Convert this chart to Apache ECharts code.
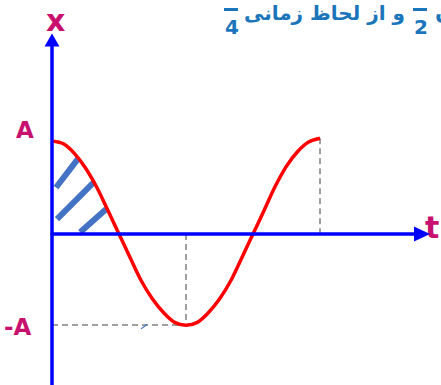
<!DOCTYPE html>
<html lang="fa">

<head>
    <meta charset="UTF-8">
    <title>x - t</title>
    <style>
        * {
            margin: 0;
            padding: 0;
        }

        #main {
            width: 441px;
            height: 385px;
            background-color: #fff;
        }
    </style>
</head>
<script src="https://cdn.jsdelivr.net/npm/echarts@6/dist/echarts.min.js"></script>

<body>
    <div id="main"></div>
    <script>
        // time in quarter periods (T/4), displacement in units of A
        var tValues = [0, 0.17, 0.33, 0.5, 0.67, 0.83, 1, 1.17, 1.33, 1.5, 1.67, 1.83, 2,
            2.17, 2.33, 2.5, 2.67, 2.83, 3, 3.17, 3.33, 3.5, 3.67, 3.83, 4];
        var xValues = [1.0, 0.97, 0.87, 0.71, 0.5, 0.26, 0, -0.26, -0.5, -0.7, -0.85, -0.95, -0.98,
            -0.95, -0.85, -0.7, -0.5, -0.26, 0, 0.26, 0.51, 0.73, 0.89, 0.99, 1.03];
        var tickLabels = ['A', '-A'];
        var axisNames = ['t', 'x'];
        // hatch strokes inside the first quarter, [t1, x1, t2, x2]
        var hatch = [
            [0.06, 0.5, 0.39, 0.81],
            [0.075, 0.16, 0.63, 0.56],
            [0.42, 0.02, 0.81, 0.27]
        ];
        var stray = [[1.33, -1.02, 1.42, -0.97]];
        var titleText = 'و از لحاظ زمانی';

        var pink = '#C8106E';
        var blue = '#1B75BB';

        var curve = tValues.map(function (t, i) {
            return [t, xValues[i]];
        });
        var iMin = 0;
        xValues.forEach(function (v, i) {
            if (v < xValues[iMin]) iMin = i;
        });
        var last = curve.length - 1;
        var guides = [
            [{ coord: [tValues[iMin], 0] }, { coord: curve[iMin] }],
            [{ coord: [0, xValues[iMin]] }, { coord: curve[iMin] }],
            [{ coord: curve[last] }, { coord: [tValues[last], 0] }]
        ];

        var chartDom = document.getElementById('main');
        var myChart = echarts.init(chartDom, null, { renderer: 'svg' });
        var option = {
            animation: false,
            grid: {
                left: 52,
                top: 40,
                width: 370,
                height: 345
            },
            xAxis: {
                type: 'value',
                min: 0,
                max: 370 / 67,
                splitLine: { show: false },
                axisTick: { show: false },
                axisLabel: { show: false },
                axisLine: {
                    onZero: true,
                    symbol: ['none', 'triangle'],
                    symbolSize: [15, 16],
                    lineStyle: { color: '#0000FF', width: 3.5 }
                },
                z: 5
            },
            yAxis: {
                type: 'value',
                min: -151 / 93,
                max: 194 / 93,
                splitLine: { show: false },
                axisTick: { show: false },
                axisLabel: { show: false },
                axisLine: {
                    onZero: true,
                    symbol: ['none', 'triangle'],
                    symbolSize: [15, 13],
                    lineStyle: { color: '#0000FF', width: 3.5 }
                },
                z: 5
            },
            series: [
                {
                    type: 'line',
                    data: curve,
                    smooth: 0.3,
                    symbol: 'none',
                    lineStyle: { color: '#FF0000', width: 3.5 },
                    z: 4,
                    markLine: {
                        silent: true,
                        symbol: 'none',
                        label: { show: false },
                        lineStyle: { color: '#808080', width: 1.5, type: [6, 4] },
                        data: guides,
                        z: 1
                    }
                },
                {
                    type: 'lines',
                    coordinateSystem: 'cartesian2d',
                    lineStyle: { color: '#4472C4', width: 6, opacity: 1, cap: 'butt' },
                    data: hatch.map(function (h) {
                        return { coords: [[h[0], h[1]], [h[2], h[3]]] };
                    }),
                    z: 3
                },
                {
                    type: 'lines',
                    coordinateSystem: 'cartesian2d',
                    lineStyle: { color: '#4472C4', width: 1.2, opacity: 1 },
                    data: stray.map(function (h) {
                        return { coords: [[h[0], h[1]], [h[2], h[3]]] };
                    }),
                    z: 3
                }
            ],
            graphic: [
                // axis names and tick labels
                {
                    type: 'text', left: 46, top: 5,
                    style: { text: axisNames[1], fill: pink, font: 'bold 30px "DejaVu Sans"' }
                },
                {
                    type: 'text', left: 425, top: 212,
                    style: { text: axisNames[0], fill: pink, font: 'bold 30px "DejaVu Sans"' }
                },
                {
                    type: 'text', left: 16, top: 118,
                    style: { text: tickLabels[0], fill: pink, font: 'bold 23px "DejaVu Sans"' }
                },
                {
                    type: 'text', left: 4, top: 315,
                    style: { text: tickLabels[1], fill: pink, font: 'bold 23px "DejaVu Sans"' }
                },
                // heading (cut at top of the picture)
                {
                    type: 'rect', shape: { x: 224, y: 8, width: 14, height: 3 },
                    style: { fill: blue }
                },
                {
                    type: 'text', left: 225, top: 17,
                    style: { text: '4', fill: blue, font: 'bold 20px "DejaVu Sans"' }
                },
                {
                    type: 'text', right: 36, top: 3,
                    style: { text: titleText, fill: blue, font: 'bold 20px "DejaVu Sans"' }
                },
                {
                    type: 'rect', shape: { x: 413, y: 8, width: 14, height: 3 },
                    style: { fill: blue }
                },
                {
                    type: 'text', left: 414, top: 17,
                    style: { text: '2', fill: blue, font: 'bold 20px "DejaVu Sans"' }
                },
                {
                    type: 'text', left: 435, top: 0,
                    style: { text: 'ن', fill: blue, font: 'bold 22px "DejaVu Sans"' }
                }
            ]
        };
        option && myChart.setOption(option);
    </script>
</body>

</html>
